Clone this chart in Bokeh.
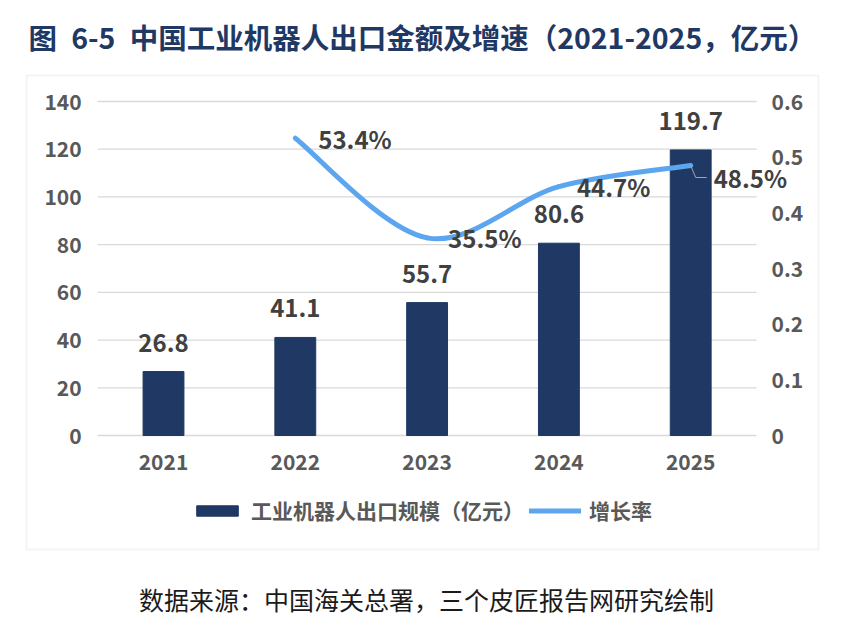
from bokeh.plotting import figure
from bokeh.models import (Range1d, LinearAxis, FixedTicker, CustomJSTickFormatter,
                          Legend, LegendItem, ColumnDataSource, Label, BoxAnnotation)
from bokeh.core.properties import value
from bokeh.embed import file_html
from bokeh.resources import INLINE

# ---- data ----
years = ["2021", "2022", "2023", "2024", "2025"]
export_value = [26.8, 41.1, 55.7, 80.6, 119.7]          # 亿元
rate_years = ["2022", "2023", "2024", "2025"]
growth_rate = [0.534, 0.355, 0.447, 0.485]               # 增长率
left_ticks = [0, 20, 40, 60, 80, 100, 120, 140]
right_ticks = [0, 0.1, 0.2, 0.3, 0.4, 0.5, 0.6]

title_text = "图\u20026-5\u2002中国工业机器人出口金额及增速（2021-2025，亿元）"
source_text = "数据来源：中国海关总署，三个皮匠报告网研究绘制"
bar_name = "工业机器人出口规模（亿元）"
line_name = "增长率"

# ---- styles / page geometry (pixels, top-left origin) ----
FONT = value("Noto Sans CJK SC")
FONT_NAME = "Noto Sans CJK SC"
BAR_COLOR = "#1F3864"
TITLE_COLOR = "#1F3864"
LINE_COLOR = "#5CA6EF"
TICK_COLOR = "#595959"
LABEL_COLOR = "#404040"
GRID_COLOR = "#D9D9D9"

W, H = 847, 623
CAT0_PX, CAT_PX = 163.0, 131.8      # centre of first category, category pitch
ZERO_PY, TOP_PY = 435.0, 101.0      # pixel rows of value 0 and axis maximum
Y_MAX, Y2_MAX = 140.0, 0.6
ppy = (ZERO_PY - TOP_PY) / Y_MAX
ppy2 = (ZERO_PY - TOP_PY) / Y2_MAX

x_range = Range1d(-CAT0_PX / CAT_PX, (W - CAT0_PX) / CAT_PX)
y_range = Range1d(-(H - ZERO_PY) / ppy, ZERO_PY / ppy)

p = figure(width=W, height=H, x_range=x_range, y_range=y_range,
           output_backend="svg", toolbar_location=None, tools="",
           min_border=0, x_axis_type=None, y_axis_type=None)
p.outline_line_color = None
p.grid.visible = False
p.background_fill_color = "white"
p.border_fill_color = "white"
p.extra_y_ranges = {"y2": Range1d(-(H - ZERO_PY) / ppy2, ZERO_PY / ppy2)}

xi = list(range(len(years)))
ri = [years.index(y) for y in rate_years]
x_left, x_right = -0.5, len(years) - 0.5

# border box around the chart area
p.add_layout(BoxAnnotation(left=26, right=818, top=H - 75, bottom=H - 549,
                           left_units="screen", right_units="screen",
                           top_units="screen", bottom_units="screen",
                           fill_alpha=0, line_color=GRID_COLOR, line_width=2,
                           level="underlay"))

# horizontal gridlines at left-axis ticks
p.segment(x0=[x_left] * len(left_ticks), x1=[x_right] * len(left_ticks),
          y0=left_ticks, y1=left_ticks, line_color=GRID_COLOR, line_width=1.3,
          level="underlay")


def style_axis(ax, standoff):
    ax.axis_line_color = None
    ax.major_tick_line_color = None
    ax.minor_tick_line_color = None
    ax.major_label_text_font = FONT_NAME
    ax.major_label_text_font_size = "21px"
    ax.major_label_text_font_style = "bold"
    ax.major_label_text_color = TICK_COLOR
    ax.major_label_standoff = standoff


xa = LinearAxis(ticker=FixedTicker(ticks=xi), fixed_location=0,
                major_label_overrides={i: y for i, y in zip(xi, years)})
style_axis(xa, 12)
p.add_layout(xa, "below")

ya = LinearAxis(ticker=FixedTicker(ticks=left_ticks), fixed_location=x_left)
style_axis(ya, 10)
p.add_layout(ya, "left")

ra = LinearAxis(y_range_name="y2", ticker=FixedTicker(ticks=right_ticks),
                fixed_location=x_right,
                formatter=CustomJSTickFormatter(code="return tick == 0 ? '0' : tick.toFixed(1);"))
style_axis(ra, 9)
p.add_layout(ra, "right")

# bars
bsrc = ColumnDataSource(dict(x=xi, top=export_value,
                             txt=[f"{v:.1f}" for v in export_value]))
bars = p.vbar(x="x", top="top", bottom=0, width=0.31, source=bsrc,
              fill_color=BAR_COLOR, line_color=BAR_COLOR)
p.text(x="x", y="top", text="txt", source=bsrc, y_offset=-29,
       text_align="center", text_baseline="middle", text_font=FONT,
       text_font_size="24px", text_font_style="bold", text_color=LABEL_COLOR)

# smooth growth line (Bezier segments through the data points)
n = len(growth_rate)
px = ri
py = growth_rate
seg = dict(x0=[], y0=[], x1=[], y1=[], cx0=[], cy0=[], cx1=[], cy1=[])
for i in range(n - 1):
    pm = max(i - 1, 0)
    pn = min(i + 2, n - 1)
    seg["x0"].append(px[i]); seg["y0"].append(py[i])
    seg["x1"].append(px[i + 1]); seg["y1"].append(py[i + 1])
    seg["cx0"].append(px[i] + (px[i + 1] - px[pm]) / 6)
    seg["cy0"].append(py[i] + (py[i + 1] - py[pm]) / 6)
    seg["cx1"].append(px[i + 1] - (px[pn] - px[i]) / 6)
    seg["cy1"].append(py[i + 1] - (py[pn] - py[i]) / 6)
curve = p.bezier(source=ColumnDataSource(seg), x0="x0", y0="y0", x1="x1", y1="y1",
                 cx0="cx0", cy0="cy0", cx1="cx1", cy1="cy1", y_range_name="y2",
                 line_color=LINE_COLOR, line_width=5, line_cap="round")

# rate labels
rsrc = ColumnDataSource(dict(x=ri, y=growth_rate,
                             txt=[f"{v * 100:.1f}%" for v in growth_rate],
                             dx=[23, 21, 18, 23], dy=[0, 0, 0, 12]))
p.text(x="x", y="y", text="txt", source=rsrc, x_offset="dx", y_offset="dy",
       y_range_name="y2", text_align="left", text_baseline="middle", text_font=FONT,
       text_font_size="24px", text_font_style="bold", text_color=LABEL_COLOR)

# leader line for the last label
lx, ly = ri[-1], growth_rate[-1]
p.line(x=[lx, lx + 5 / CAT_PX, lx + 16 / CAT_PX],
       y=[ly, ly - 12 / ppy2, ly - 12 / ppy2],
       y_range_name="y2", line_color="#A6A6A6", line_width=1)

# legend
legend = Legend(items=[LegendItem(label=bar_name, renderers=[bars]),
                       LegendItem(label=line_name, renderers=[curve])],
                location=(191, H - 514 - 11), orientation="horizontal",
                glyph_width=52, glyph_height=13, label_standoff=8, spacing=5,
                padding=0, margin=0, border_line_color=None, background_fill_alpha=0,
                label_text_font=FONT_NAME, label_text_font_size="21px",
                label_text_font_style="bold", label_text_color=TICK_COLOR,
                label_height=22)
p.add_layout(legend)

# title and source
p.add_layout(Label(x=28, y=H - 36, x_units="screen", y_units="screen", text=title_text,
                   text_font=FONT_NAME, text_font_size="28.5px", text_font_style="bold",
                   text_color=TITLE_COLOR, text_align="left", text_baseline="middle"))
p.add_layout(Label(x=426, y=H - 598, x_units="screen", y_units="screen", text=source_text,
                   text_font=FONT_NAME, text_font_size="25px", text_color="#1A1A1A",
                   text_align="center", text_baseline="middle"))

open("out.html", "w").write(file_html(p, INLINE))
